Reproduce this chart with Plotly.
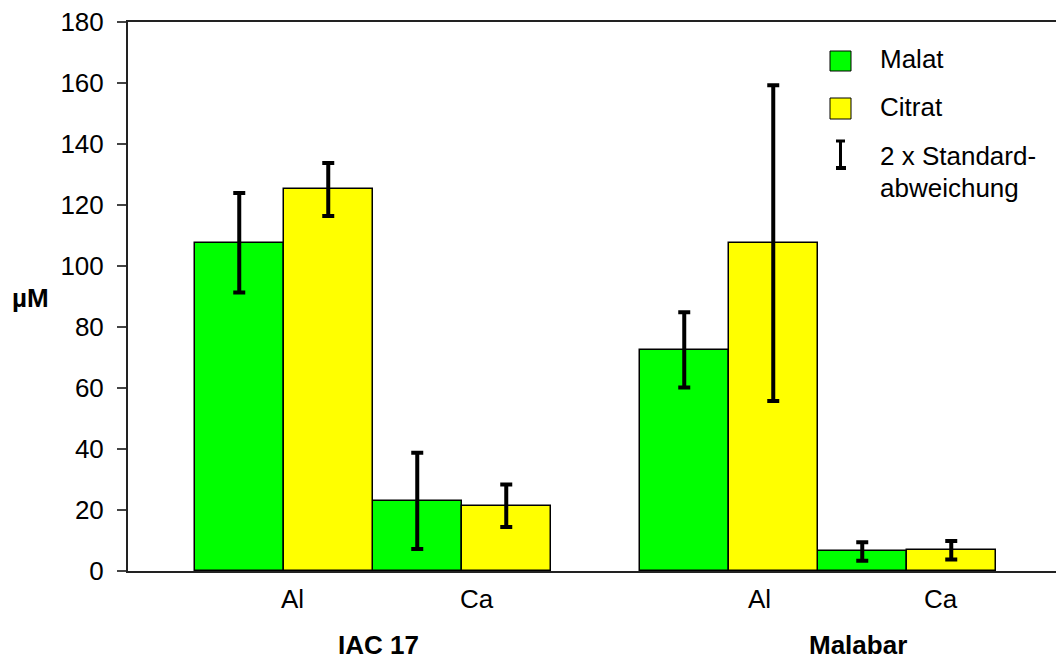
import plotly.graph_objects as go

# ---- data ----
groups = ["IAC 17", "Malabar"]
elements = ["Al", "Ca"]
series_names = ["Malat", "Citrat"]
malat_values = [107.6, 23.0, 72.5, 6.4]
malat_err = [16.3, 15.8, 12.3, 3.0]
citrat_values = [125.1, 21.4, 107.5, 6.8]
citrat_err = [8.7, 7.0, 51.8, 3.0]
y_ticks = [0, 20, 40, 60, 80, 100, 120, 140, 160, 180]
element_label_x = [0.6, 2.67, 5.85, 7.88]
group_label_x = [1.57, 6.95]

W, H = 1056, 659
L, R, T, B = 128, 0, 22, 88
PW = W - L - R
PH = H - T - B
BAR_PX = 89.0

def px(xp):
    return (xp - L) / PW

def py(yp):
    return (H - B - yp) / PH

# bar positions: group*5 + element*2 (+1 for Citrat)
base_x = [g * 5 + e * 2 for g in range(len(groups)) for e in range(len(elements))]
malat_x = base_x
citrat_x = [x + 1 for x in base_x]

FONT = "Liberation Sans, Arial, sans-serif"
fig = go.Figure()
fig.add_trace(go.Bar(
    x=malat_x, y=malat_values, width=1, name=series_names[0],
    marker=dict(color="#00ff00", line=dict(color="#000000", width=1.5)),
    error_y=dict(type="data", array=malat_err, visible=True, color="#000000", thickness=4, width=6),
    showlegend=False,
))
fig.add_trace(go.Bar(
    x=citrat_x, y=citrat_values, width=1, name=series_names[1],
    marker=dict(color="#ffff00", line=dict(color="#000000", width=1.5)),
    error_y=dict(type="data", array=citrat_err, visible=True, color="#000000", thickness=4, width=6),
    showlegend=False,
))

x0 = -1.25
x1 = x0 + PW / BAR_PX

annotations = []
labels = [e for g in groups for e in elements]
for lx, lab in zip(element_label_x, labels):
    annotations.append(dict(x=lx, y=py(599), xref="x", yref="paper", text=lab, showarrow=False,
                            font=dict(size=26, color="#000000", family=FONT), xanchor="center", yanchor="middle"))
for gx, g in zip(group_label_x, groups):
    annotations.append(dict(x=gx, y=py(645), xref="x", yref="paper", text="<b>%s</b>" % g, showarrow=False,
                            font=dict(size=26, color="#000000", family=FONT), xanchor="center", yanchor="middle"))
annotations.append(dict(x=px(30), y=py(298), xref="paper", yref="paper", text="<b>µM</b>", showarrow=False,
                        font=dict(size=26, color="#000000", family=FONT), xanchor="center", yanchor="middle"))

# legend (manual)
shapes = []
shapes.append(dict(type="rect", xref="paper", yref="paper", x0=px(830), x1=px(851), y0=py(71), y1=py(51),
                   fillcolor="#00ff00", line=dict(color="#000000", width=1)))
shapes.append(dict(type="rect", xref="paper", yref="paper", x0=px(830), x1=px(851), y0=py(119), y1=py(98),
                   fillcolor="#ffff00", line=dict(color="#000000", width=1)))
shapes.append(dict(type="line", xref="paper", yref="paper", x0=px(840.5), x1=px(840.5), y0=py(141), y1=py(168),
                   line=dict(color="#000000", width=3)))
shapes.append(dict(type="line", xref="paper", yref="paper", x0=px(836), x1=px(845), y0=py(141), y1=py(141),
                   line=dict(color="#000000", width=3)))
shapes.append(dict(type="line", xref="paper", yref="paper", x0=px(836), x1=px(846), y0=py(168), y1=py(168),
                   line=dict(color="#000000", width=4)))
legend_text = [("Malat", 59), ("Citrat", 107), ("2 x Standard-", 156), ("abweichung", 188)]
for txt, yy in legend_text:
    annotations.append(dict(x=px(878), y=py(yy), xref="paper", yref="paper", text=txt, showarrow=False,
                            font=dict(size=26, color="#000000", family=FONT), xanchor="left", yanchor="middle"))

fig.update_layout(
    width=W, height=H, autosize=False,
    margin=dict(l=L, r=R, t=T, b=B, pad=0),
    paper_bgcolor="#ffffff", plot_bgcolor="#ffffff",
    barmode="overlay", bargap=0,
    font=dict(family=FONT, size=26, color="#000000"),
    xaxis=dict(range=[x0, x1], showgrid=False, zeroline=False, showticklabels=False, ticks="",
               showline=True, linecolor="#222222", linewidth=2, mirror=True, fixedrange=True),
    yaxis=dict(range=[0, 180], tickvals=y_ticks, showgrid=False, zeroline=False,
               ticks="outside", ticklen=9, tickwidth=1.5, tickcolor="#444444",
               ticklabelstandoff=8,
               showline=True, linecolor="#222222", linewidth=2,
               tickfont=dict(size=26, color="#000000", family=FONT), fixedrange=True),
    annotations=annotations, shapes=shapes, showlegend=False,
)

fig.write_html("out.html", config={"displayModeBar": False},
               post_script="document.body.style.margin='0';document.body.style.overflow='hidden';")
